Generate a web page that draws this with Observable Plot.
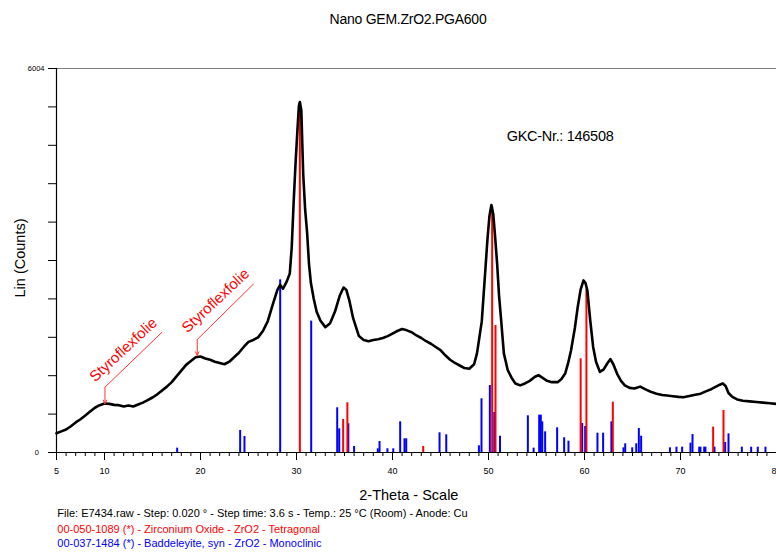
<!DOCTYPE html>
<html>
<head>
<meta charset="utf-8">
<script src="https://cdn.jsdelivr.net/npm/d3@7"></script>
<script src="https://cdn.jsdelivr.net/npm/@observablehq/plot@0.6"></script>
<style>
  body { margin: 0; background: #fff; }
  #wrap { position: relative; width: 776px; height: 552px; overflow: hidden; font-family: "Liberation Sans", Arial, sans-serif; }
  #wrap svg { position: absolute; left: 0; top: 0; }
  .t { position: absolute; white-space: nowrap; line-height: 1; }
</style>
</head>
<body>
<div id="wrap">
  <div class="t" id="title" style="left:408px; top:11.7px; font-size:14px; letter-spacing:-0.25px; transform:translateX(-50%);">Nano GEM.ZrO2.PGA600</div>
  <div class="t" id="ylab" style="left:20px; top:258px; font-size:14.5px; transform:translate(-50%,-50%) rotate(-90deg);">Lin (Counts)</div>
  <div class="t" id="gkc" style="left:506.7px; top:128.5px; font-size:14.5px; letter-spacing:-0.3px;">GKC-Nr.: 146508</div>
  <div class="t" id="xlab" style="left:359.3px; top:487.8px; font-size:14.5px;">2-Theta - Scale</div>
  <div class="t" style="left:57.3px; top:507.8px; font-size:11px; color:#000;">File: E7434.raw - Step: 0.020 ° - Step time: 3.6 s - Temp.: 25 °C (Room) - Anode: Cu</div>
  <div class="t" style="left:57.3px; top:523.8px; font-size:11px; color:#ff0000;">00-050-1089 (*) - Zirconium Oxide - ZrO2 - Tetragonal</div>
  <div class="t" style="left:57.3px; top:537.8px; font-size:11px; color:#0000ff;">00-037-1484 (*) - Baddeleyite, syn - ZrO2 - Monoclinic</div>
</div>
<script>
// Measured scan (2-theta in degrees, intensity in counts)
const twoTheta = [5.0,5.5,6.0,6.5,7.0,7.5,8.0,8.5,9.0,9.5,10.0,10.5,11.0,11.5,12.0,12.5,13.0,13.5,14.0,14.5,15.0,15.5,16.0,16.5,17.0,17.5,18.0,18.5,19.0,19.5,20.0,20.5,21.0,21.5,22.0,22.5,23.0,23.5,24.0,24.5,25.0,25.5,26.0,26.5,27.0,27.5,28.0,28.3,28.6,29.0,29.3,29.5,29.7,29.9,30.1,30.25,30.35,30.5,30.7,30.9,31.1,31.3,31.5,31.8,32.1,32.5,33.0,33.5,34.0,34.5,34.9,35.2,35.5,35.9,36.5,37.0,37.5,38.0,38.5,39.0,39.5,40.0,40.5,41.0,41.5,42.0,42.5,43.0,43.5,44.0,44.5,45.0,45.5,46.0,46.5,47.0,47.5,48.0,48.5,48.8,49.0,49.3,49.6,49.9,50.1,50.3,50.5,50.7,50.9,51.1,51.3,51.6,52.0,52.4,52.8,53.3,53.8,54.3,54.8,55.2,55.6,56.1,56.6,57.2,57.6,58.0,58.3,58.6,59.0,59.3,59.6,59.9,60.1,60.3,60.6,60.9,61.2,61.6,62.0,62.4,62.7,63.0,63.4,63.8,64.2,64.7,65.2,65.8,66.3,66.9,67.5,68.1,68.6,69.2,69.8,70.3,70.8,71.4,72.1,72.7,73.2,73.7,74.1,74.4,74.7,75.0,75.4,75.9,76.5,77.2,77.9,78.6,79.3,80.0];
const counts = [300,330,360,410,470,520,580,640,700,740,765,760,745,740,720,735,720,750,780,820,860,910,970,1030,1100,1190,1280,1370,1430,1490,1500,1470,1450,1420,1400,1380,1420,1490,1560,1650,1730,1760,1800,1900,2050,2300,2540,2620,2560,2680,2800,3200,3900,4520,5050,5420,5480,5350,4350,3800,3450,2950,2650,2400,2200,2060,1960,2020,2200,2450,2580,2540,2380,2100,1820,1760,1740,1760,1770,1790,1820,1860,1900,1930,1910,1880,1830,1790,1740,1700,1650,1600,1520,1450,1400,1360,1320,1310,1380,1550,1750,2050,2700,3350,3700,3870,3720,3350,2950,2450,2100,1550,1290,1170,1080,1050,1080,1120,1180,1210,1170,1120,1100,1100,1150,1240,1400,1600,1950,2280,2550,2690,2650,2530,2060,1650,1420,1260,1300,1400,1460,1380,1230,1120,1050,1010,1000,1030,990,950,920,900,890,880,870,865,880,900,920,960,990,1030,1060,1080,1040,930,870,830,810,800,790,780,770,760];

// 00-050-1089 Zirconium Oxide, tetragonal (red sticks)
const tetraTheta = [30.35,34.86,35.3,43.2,50.38,50.73,59.6,60.2,62.95,73.4,74.48];
const tetraI = [5480,516,777,94,3847,1986,1465,2545,787,396,657];

// 00-037-1484 Baddeleyite, monoclinic (blue sticks)
const monoTheta = [17.57,24.13,24.58,28.3,31.53,34.24,34.45,35.4,36.0,38.47,38.65,39.47,40.08,40.8,41.25,41.43,44.9,45.6,49.0,49.27,50.14,50.6,51.2,54.1,54.7,55.28,55.45,55.6,55.9,57.15,57.88,58.33,59.76,60.07,61.35,61.94,62.8,64.06,64.24,64.97,65.39,65.66,65.9,68.9,69.58,70.17,71.04,71.25,71.95,72.08,72.47,72.6,73.54,74.65,75.0,76.39,77.36,78.05,78.85];
const monoI = [68,344,250,2700,2054,699,370,449,94,58,172,58,58,480,214,214,308,277,105,840,1048,626,255,574,68,584,584,480,323,386,230,177,454,407,302,302,480,73,136,73,136,375,255,73,83,83,146,281,83,83,83,83,83,156,292,83,83,83,83];

// Annotations ("Styroflexfolie")
const annLabel = ["Styroflexfolie", "Styroflexfolie"];
const annX = [10.05, 19.66];
const annTip = [762, 1517];
const annElbow = [1021, 1767];
const annEndX = [16.0, 25.55];
const annEndY = [1882, 2638];
const annTextX = [11.97, 21.58];
const annTextY = [1606, 2374];

// Axis ticks
const xTickValues = [5, 10, 20, 30, 40, 50, 60, 70, 80];
const xMinorTicks = d3.range(5, 81, 1);
const yMax = 6004;
const yTickCount = 10;

const scan = twoTheta.map((t, i) => ({t, c: counts[i]}));
const tetra = tetraTheta.map((t, i) => ({t, v: tetraI[i]}));
const mono = monoTheta.map((t, i) => ({t, v: monoI[i]}));
const ann = annLabel.map((label, i) => ({label, x: annX[i], tip: annTip[i], elbow: annElbow[i], ex: annEndX[i], ey: annEndY[i], tx: annTextX[i], ty: annTextY[i]}));
const yTicks = d3.range(0, yTickCount + 1).map(i => i * yMax / yTickCount);

const chart = Plot.plot({
  width: 776,
  height: 552,
  marginTop: 68,
  marginBottom: 100,
  marginLeft: 56,
  marginRight: 0,
  x: {domain: [5, 80]},
  y: {domain: [0, yMax]},
  style: {fontFamily: "Liberation Sans, Arial, sans-serif", fontSize: "9px", background: "transparent", overflow: "visible"},
  marks: [
    Plot.ruleY([yMax], {stroke: "#808080", strokeWidth: 1}),
    Plot.ruleX(mono, {x: "t", y1: 0, y2: "v", stroke: "#0000ff", strokeWidth: 2}),
    Plot.ruleX(tetra, {x: "t", y1: 0, y2: "v", stroke: "#ff0000", strokeWidth: 2}),
    Plot.line(scan, {x: "t", y: "c", stroke: "black", strokeWidth: 2.6, strokeLinejoin: "round"}),
    Plot.arrow(ann, {x1: "x", y1: "elbow", x2: "x", y2: "tip", stroke: "#ff3333", strokeWidth: 1, headLength: 6, headAngle: 50}),
    Plot.link(ann, {x1: "x", y1: "elbow", x2: "ex", y2: "ey", stroke: "#ff3333", strokeWidth: 1}),
    Plot.text(ann, {x: "tx", y: "ty", text: "label", rotate: -43, fill: "#ff0000", fontSize: 15, textAnchor: "middle"}),
    Plot.axisX(xMinorTicks, {tickSize: 4, tickFormat: () => "", label: null}),
    Plot.axisX(xTickValues, {tickSize: 8, tickPadding: 7, fontSize: 9, label: null, tickFormat: d => String(d)}),
    Plot.axisY(yTicks, {tickSize: 8, tickFormat: () => "", label: null}),
    Plot.axisY([yMax], {tickSize: 0, tickPadding: 12, fontSize: 7.5, label: null, tickFormat: d => String(d)}),
    Plot.axisY([0], {tickSize: 0, tickPadding: 17.5, fontSize: 7.5, label: null, tickFormat: d => String(d)}),
    Plot.ruleY([0], {stroke: "black", strokeWidth: 1.2}),
    Plot.ruleX([5], {stroke: "black", strokeWidth: 1.2})
  ]
});
document.getElementById("wrap").prepend(chart);
</script>
</body>
</html>
